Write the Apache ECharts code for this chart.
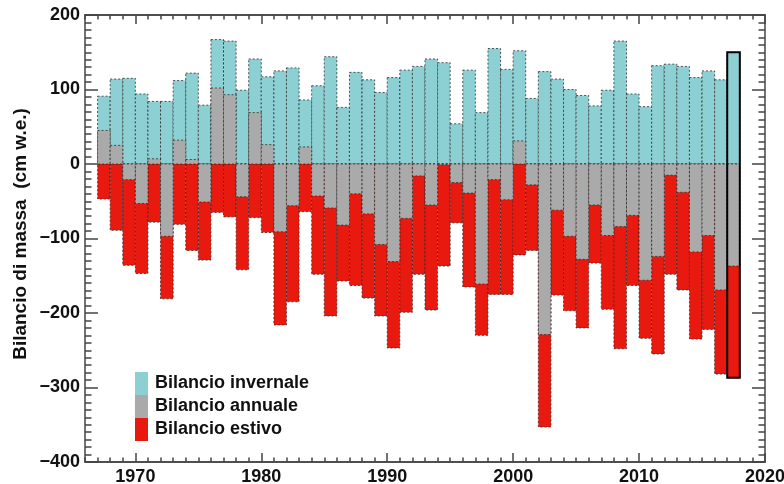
<!DOCTYPE html>
<html>
<head>
<meta charset="utf-8">
<script src="https://cdn.jsdelivr.net/npm/echarts@6/dist/echarts.min.js"></script>
<style>
html,body{margin:0;padding:0;background:#fff;}
#c{width:784px;height:484px;}
</style>
</head>
<body>
<div id="c"></div>
<script>
// ---- data (cm w.e.) ----
const years = [1967,1968,1969,1970,1971,1972,1973,1974,1975,1976,
               1977,1978,1979,1980,1981,1982,1983,1984,1985,1986,
               1987,1988,1989,1990,1991,1992,1993,1994,1995,1996,
               1997,1998,1999,2000,2001,2002,2003,2004,2005,2006,
               2007,2008,2009,2010,2011,2012,2013,2014,2015,2016,
               2017];
const winterBalance = [91,114,115,94,84,84,112,122,79,167,
                       165,99,141,117,125,129,86,105,144,76,
                       123,113,96,116,126,131,141,136,54,126,
                       69,155,127,152,88,124,114,100,92,78,
                       99,165,94,77,132,134,131,116,125,113,
                       150];
const annualBalance = [45,25,-21,-53,7,-97,32,6,-51,102,
                       93,-44,69,26,-91,-56,23,-43,-59,-82,
                       -40,-67,-108,-131,-73,-16,-55,-1,-25,-39,
                       -161,-21,-48,31,-28,-229,-62,-97,-128,-55,
                       -96,-84,-69,-156,-124,-15,-38,-118,-96,-169,
                       -137];
const summerBalance = [-47,-89,-136,-147,-78,-181,-81,-116,-129,-65,
                       -71,-142,-72,-92,-216,-185,-64,-148,-204,-157,
                       -163,-180,-204,-247,-199,-148,-196,-137,-79,-165,
                       -230,-175,-175,-122,-116,-353,-176,-197,-220,-133,
                       -195,-248,-163,-234,-255,-148,-169,-235,-222,-282,
                       -287];
const seriesNames = ['Bilancio invernale','Bilancio annuale','Bilancio estivo'];
const xTickLabels = [1970,1980,1990,2000,2010,2020];
const yAxisTitle = 'Bilancio di massa  (cm w.e.)';

// ---- styling ----
const FONT = '"Liberation Sans", Arial, Helvetica, sans-serif';
const C_WINTER = '#8dd0d4';
const C_ANNUAL = '#aaaaaa';
const C_SUMMER = '#e8190e';
const FRAME = '#444';
const X_MIN = 1966, X_MAX = 2020;
const minorYears = [];
for (let y = X_MIN; y <= X_MAX; y++) minorYears.push(y);

function makeRender(color) {
  return function (params, api) {
    const x0 = api.value(0), v = api.value(1);
    const a = api.coord([x0, 0]);
    const b = api.coord([x0 + 1, v]);
    return {
      type: 'rect',
      shape: { x: a[0], y: Math.min(a[1], b[1]), width: b[0] - a[0], height: Math.abs(b[1] - a[1]) },
      style: { fill: color, stroke: 'rgba(45,45,45,0.8)', lineWidth: 1, lineDash: [2, 2] }
    };
  };
}
function outlineRender(params, api) {
  const x0 = api.value(0);
  const a = api.coord([x0, api.value(1)]);
  const b = api.coord([x0 + 1, api.value(2)]);
  return {
    type: 'rect',
    shape: { x: a[0], y: Math.min(a[1], b[1]), width: b[0] - a[0], height: Math.abs(b[1] - a[1]) },
    style: { fill: 'none', stroke: '#000', lineWidth: 2 }
  };
}

const lineStyle = { color: FRAME, width: 1.5 };
function xAxisDef(pos, major, showLabel) {
  return {
    type: 'value', position: pos, min: X_MIN, max: X_MAX,
    axisLine: { show: true, onZero: false, lineStyle: lineStyle },
    axisTick: { show: true, inside: true, length: major ? 9 : 4.5,
                customValues: major ? xTickLabels : minorYears, lineStyle: lineStyle },
    axisLabel: showLabel ? {
      show: true, customValues: xTickLabels, margin: 6,
      fontSize: 18, fontWeight: 'bold', color: '#111', fontFamily: FONT,
      formatter: v => String(v)
    } : { show: false },
    splitLine: { show: false }
  };
}
function yAxisDef(pos, showLabel) {
  return {
    type: 'value', position: pos, min: -400, max: 200, interval: 100,
    axisLine: { show: true, onZero: false, lineStyle: lineStyle },
    axisTick: { show: true, inside: true, length: 13, lineStyle: lineStyle },
    minorTick: { show: true, splitNumber: 10, length: 6.5, lineStyle: lineStyle },
    axisLabel: showLabel ? {
      show: true, margin: 5, showMinLabel: true, showMaxLabel: true,
      fontSize: 18, fontWeight: 'bold', color: '#111', fontFamily: FONT,
      padding: [3, 0, 0, 0],
      formatter: v => (v < 0 ? '\u2212' + Math.abs(v) : String(v))
    } : { show: false },
    splitLine: { show: false }, minorSplitLine: { show: false }
  };
}

const chart = echarts.init(document.getElementById('c'), null, { renderer: 'canvas' });
const n = years.length;
chart.setOption({
  animation: false,
  backgroundColor: '#fff',
  grid: { left: 85, right: 19, top: 15, bottom: 22, containLabel: false, outerBoundsMode: 'none' },
  xAxis: [
    xAxisDef('bottom', true, true),
    xAxisDef('bottom', false, false),
    xAxisDef('top', true, false),
    xAxisDef('top', false, false)
  ],
  yAxis: [yAxisDef('left', true), yAxisDef('right', false)],
  legend: {
    left: 135, top: 372, orient: 'vertical', padding: 0,
    itemWidth: 13, itemHeight: 23, itemGap: 0, icon: 'rect',
    selectedMode: false,
    data: seriesNames,
    itemStyle: { borderWidth: 0 },
    textStyle: { fontSize: 18, fontWeight: 'bold', color: '#111', fontFamily: FONT,
                 lineHeight: 23, padding: [0, 0, 0, 2] }
  },
  graphic: [{
    type: 'text', x: 21, y: 234, rotation: Math.PI / 2,
    style: { text: yAxisTitle, fontSize: 19, fontWeight: 'bold', fontFamily: FONT,
             fill: '#111', align: 'center', verticalAlign: 'middle' }
  }],
  series: [
    { type: 'custom', name: seriesNames[0], renderItem: makeRender(C_WINTER),
      itemStyle: { color: C_WINTER }, encode: { x: 0, y: 1 }, silent: true,
      data: years.map((y, i) => [y, winterBalance[i]]) },
    { type: 'custom', name: seriesNames[2], renderItem: makeRender(C_SUMMER),
      itemStyle: { color: C_SUMMER }, encode: { x: 0, y: 1 }, silent: true,
      data: years.map((y, i) => [y, summerBalance[i]]) },
    { type: 'custom', name: seriesNames[1], renderItem: makeRender(C_ANNUAL),
      itemStyle: { color: C_ANNUAL }, encode: { x: 0, y: 1 }, silent: true,
      data: years.map((y, i) => [y, annualBalance[i]]) },
    { type: 'custom', name: 'outline', renderItem: outlineRender, silent: true,
      encode: { x: 0, y: [1, 2] },
      data: [[years[n - 1], winterBalance[n - 1], summerBalance[n - 1]]] }
  ]
});
</script>
</body>
</html>
